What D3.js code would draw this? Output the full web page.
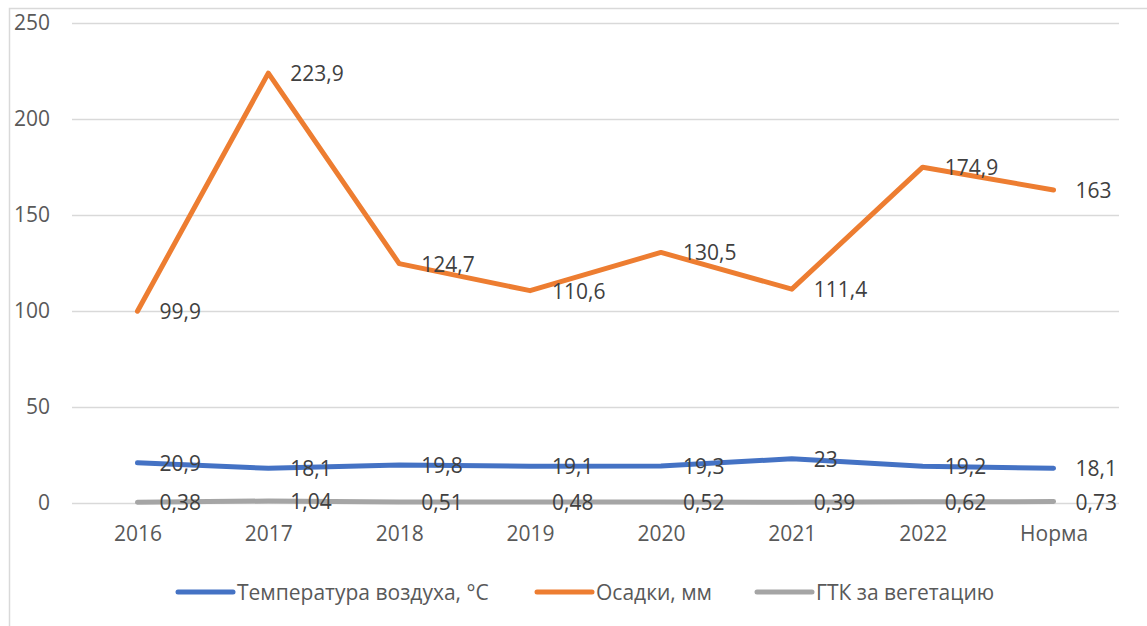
<!DOCTYPE html>
<html>
<head>
<meta charset="utf-8">
<script src="https://cdn.jsdelivr.net/npm/d3@7"></script>
<style>
  body { margin: 0; background: #fff; }
  text { font-family: "Open Sans", "Noto Sans", sans-serif; }
</style>
</head>
<body>
<script>
// data
var categories = ["2016", "2017", "2018", "2019", "2020", "2021", "2022", "Норма"];
var temperature = [20.9, 18.1, 19.8, 19.1, 19.3, 23, 19.2, 18.1];
var precipitation = [99.9, 223.9, 124.7, 110.6, 130.5, 111.4, 174.9, 163];
var gtk = [0.38, 1.04, 0.51, 0.48, 0.52, 0.39, 0.62, 0.73];
var yTicks = [0, 50, 100, 150, 200, 250];
var seriesNames = ["Температура воздуха, °C", "Осадки, мм", "ГТК за вегетацию"];
var colors = ["#4472C4", "#ED7D31", "#A5A5A5"];

var W = 1147, H = 626;
var plot = {left: 72, right: 1119, top: 23, bottom: 503};

var svg = d3.select("body").append("svg")
    .attr("width", W)
    .attr("height", H);

// outer frame of the chart
svg.append("rect")
    .attr("x", 9.5).attr("y", 8.5)
    .attr("width", W + 20).attr("height", H + 20)
    .attr("fill", "#fff")
    .attr("stroke", "#d9d9d9")
    .attr("stroke-width", 1.5);

var x = d3.scalePoint()
    .domain(categories)
    .range([plot.left, plot.right])
    .padding(0.5);

var y = d3.scaleLinear()
    .domain([0, 250])
    .range([plot.bottom, plot.top]);

// gridlines + y labels
var yAxis = svg.append("g")
    .attr("transform", "translate(" + plot.left + ",0)")
    .call(d3.axisLeft(y).tickValues(yTicks).tickSize(-(plot.right - plot.left)).tickPadding(22));
yAxis.select(".domain").remove();
yAxis.selectAll(".tick line").attr("stroke", "#d9d9d9").attr("stroke-width", 1.5);
yAxis.selectAll(".tick text")
    .attr("fill", "#595959")
    .style("font-size", "21px")
    .style("font-family", "'Open Sans', sans-serif");

// x labels
var xAxis = svg.append("g")
    .attr("transform", "translate(0," + plot.bottom + ")")
    .call(d3.axisBottom(x).tickSize(0).tickPadding(23));
xAxis.select(".domain").remove();
xAxis.selectAll(".tick text")
    .attr("fill", "#595959")
    .style("font-size", "21px")
    .style("font-family", "'Open Sans', sans-serif");

var series = [temperature, precipitation, gtk];
var line = d3.line()
    .x(function(d, i) { return x(categories[i]); })
    .y(function(d) { return y(d); });

series.forEach(function(vals, s) {
    svg.append("path")
        .datum(vals)
        .attr("d", line)
        .attr("fill", "none")
        .attr("stroke", colors[s])
        .attr("stroke-width", 5)
        .attr("stroke-linecap", "round")
        .attr("stroke-linejoin", "round");
});

// data labels to the right of each point
series.forEach(function(vals, s) {
    svg.append("g").selectAll("text")
        .data(vals)
        .enter().append("text")
        .attr("x", function(d, i) { return x(categories[i]) + 22; })
        .attr("y", function(d) { return y(d); })
        .attr("dy", "0.38em")
        .attr("fill", "#404040")
        .style("font-size", "21px")
        .text(function(d) { return String(d).replace(".", ","); });
});

// legend
var legendX = [178, 537, 757];
var legend = svg.append("g");
seriesNames.forEach(function(name, s) {
    legend.append("line")
        .attr("x1", legendX[s]).attr("x2", legendX[s] + 55)
        .attr("y1", 592).attr("y2", 592)
        .attr("stroke", colors[s])
        .attr("stroke-width", 5)
        .attr("stroke-linecap", "round");
    legend.append("text")
        .attr("x", legendX[s] + 59)
        .attr("y", 592)
        .attr("dy", "0.36em")
        .attr("fill", "#595959")
        .style("font-size", "21px")
        .text(name);
});
</script>
</body>
</html>
